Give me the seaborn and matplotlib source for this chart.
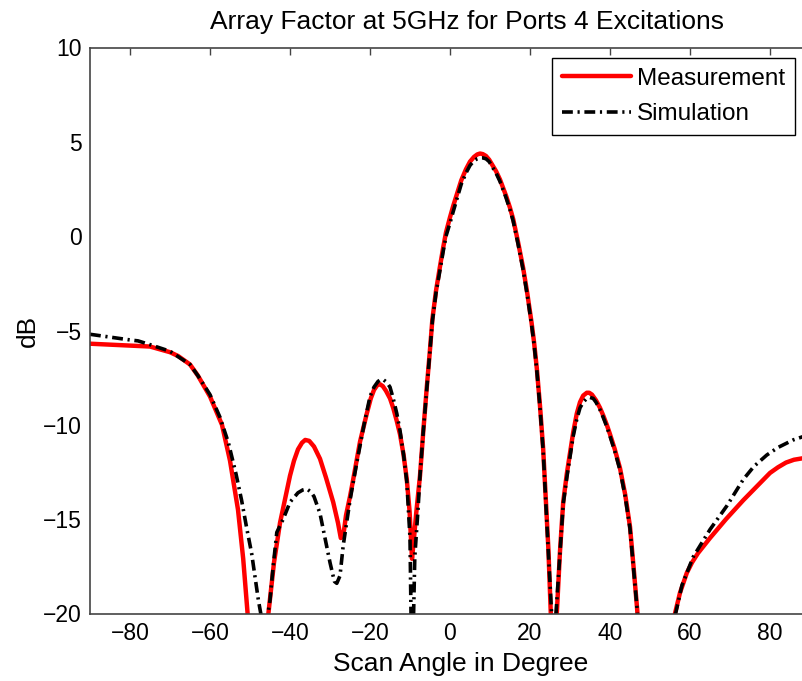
import numpy as np
import pandas as pd
import matplotlib
matplotlib.use("Agg")
import matplotlib.pyplot as plt
import seaborn as sns

# --- DATA ---
meas_angle = [-90, -85, -80, -75, -70, -68, -65, -63, -60, -57, -55, -53, -51.7, -50.6, -48, -45.4,
              -44, -42.5, -41, -40, -39, -38, -37, -36.2, -35.2, -34, -32.5, -31, -29.2, -28, -27.3,
              -26.5, -26, -25, -24.2, -22.5, -20.8, -19.8, -19, -18.2, -17.5, -16.8, -16, -15,
              -14.2, -13.3, -12.5, -11.6, -10.8, -10.1, -9.5, -9.0, -8.5, -7.5, -6.7, -5.8, -5, -4.4,
              -3.5, -2.5, -1.7, -1, 0, 0.8, 1.7, 2.8, 4, 5, 6, 6.8, 7.5, 8.2, 9, 9.8, 10.5, 11.5,
              12.5, 13.2, 14, 15, 15.8, 17, 18.3, 19.3, 20.4, 21, 21.7, 22.5, 23.3, 24.6, 25.2, 26,
              26.7, 27.5, 28.3, 29.2, 30, 30.8, 31.7, 32.5, 33.3, 34.2, 34.8, 35.5, 36.5, 37.5,
              38.3, 39.2, 40, 41.2, 42.5, 43.8, 45, 46, 46.8, 48, 52, 55.5, 56.25, 57.5, 59.2, 60.5,
              62, 65, 69, 73.3, 77, 80, 82, 84, 86, 87.5, 90]
meas_db = [-5.7, -5.75, -5.8, -5.85, -6.15, -6.35, -6.8, -7.4, -8.5, -10.0, -11.9, -14.5, -17.1, -20, -28, -20,
           -17.3, -15.2, -13.7, -12.7, -11.9, -11.3, -10.95, -10.8, -10.85, -11.15, -11.8, -12.8, -14.1, -15.2, -16.0,
           -15.6, -14.8, -13.8, -12.9, -10.9, -9.4, -8.6, -8.15, -7.9, -7.85, -7.95, -8.2, -8.6,
           -9.1, -9.8, -10.5, -11.6, -12.9, -14.6, -17.1, -16.0, -14.8, -12.7, -10.4, -8.0, -6.0, -4.4,
           -2.9, -1.6, -0.6, 0.2, 1.0, 1.6, 2.2, 2.95, 3.55, 3.95, 4.2, 4.33, 4.38, 4.35, 4.25, 4.05, 3.8, 3.45,
           3.0, 2.6, 2.15, 1.5, 0.9, -0.3, -1.7, -3.0, -4.6, -5.6, -7.0, -9.0, -11.3, -16.6, -20, -24,
           -20, -16.7, -14.1, -12.6, -11.5, -10.4, -9.4, -8.8, -8.45, -8.3, -8.3, -8.4, -8.7, -9.1,
           -9.5, -10.0, -10.5, -11.3, -12.3, -13.7, -15.4, -17.8, -19.8, -24, -30, -23, -20, -18.9, -17.85, -17.3,
           -16.8, -16.0, -15.0, -14.0, -13.2, -12.55, -12.25, -12.0, -11.85, -11.8, -11.7]

sim_angle = [-90, -85, -80, -78, -75, -70, -65, -63, -60, -57.5, -55.4, -53.5, -52.1, -50.8, -49.6, -47.9,
             -46.8, -45.8, -45, -44.2, -43.3, -41.7, -40, -38, -36.8, -35.8, -34.8, -34, -32.5, -30, -28.9,
             -28.3, -27.5, -26.7, -25, -23.3, -21.5, -20, -19, -18, -17.3, -16.7, -15.8, -15, -14.2,
             -13.3, -12.5, -11.6, -10.8, -10, -9.5, -8.8, -8, -7.5, -6.7, -5.8, -5, -4.4, -3.5, -2.5,
             -1.7, -1, 0, 0.8, 1.7, 2.8, 4, 5, 6, 6.8, 7.5, 8.2, 9, 9.8, 10.5, 11.5, 12.5, 13.2, 14,
             15, 15.8, 17, 18.3, 19.3, 20.4, 21, 21.7, 22.5, 23.3, 24.6, 25.4, 26, 26.5, 27.5, 28.3,
             29.2, 30, 30.8, 31.7, 32.5, 33.3, 34.2, 35, 35.8, 36.5, 37.5, 38.3, 39.2, 40, 41.2,
             42.5, 43.8, 45, 46, 46.8, 48, 52, 55.5, 56.4, 58, 60.8, 65, 69.2, 73.3, 76, 79.2, 82,
             85.8, 90]
sim_db = [-5.2, -5.35, -5.5, -5.55, -5.75, -6.1, -6.8, -7.4, -8.4, -9.6, -10.95, -12.6, -14.0, -15.5, -16.8, -19.3,
          -20.6, -20.4, -19.3, -17.5, -15.7, -15.0, -14.1, -13.6, -13.45, -13.4, -13.55, -13.8, -14.7, -17.3, -18.3,
          -18.4, -18.0, -16.4, -14.0, -12.0, -10.0, -8.5, -8.0, -7.7, -7.6, -7.6, -7.75, -8.0, -8.6,
          -9.4, -10.3, -11.6, -13.0, -16, -24, -17, -14.5, -12.7, -10.4, -8.1, -6.1, -4.5, -3.0, -1.8,
          -0.8, 0.0, 0.7, 1.3, 1.95, 2.75, 3.35, 3.75, 4.0, 4.1, 4.15, 4.15, 4.1, 3.95, 3.7, 3.35, 2.9, 2.5, 2.05,
          1.4, 0.8, -0.4, -1.8, -3.1, -4.7, -5.7, -7.1, -9.1, -11.4, -16.8, -20, -24, -20, -16.8, -14.2,
          -12.8, -11.7, -10.6, -9.7, -9.1, -8.8, -8.6, -8.55, -8.6, -8.8, -9.2, -9.6, -10.1, -10.6, -11.4,
          -12.4, -13.8, -15.5, -17.9, -19.8, -24, -30, -23, -20, -18.5, -17.0, -15.55, -14.3, -12.9, -12.2, -11.6, -11.2,
          -10.8, -10.5]

meas = pd.DataFrame({"angle": meas_angle, "dB": meas_db})
sim = pd.DataFrame({"angle": sim_angle, "dB": sim_db})

# --- STYLE ---
sns.set_theme(style="white")
plt.rcParams["font.family"] = ["Liberation Sans", "DejaVu Sans"]
plt.rcParams["font.size"] = 16
plt.rcParams["text.color"] = "black"
plt.rcParams["axes.labelcolor"] = "black"

fig = plt.figure(figsize=(8.02, 6.81), dpi=100)
ax = fig.add_axes([90 / 802, 67.5 / 681, 720 / 802, 566 / 681])

sim_dash = [3.0, 1.3, 0.6, 1.3]
sns.lineplot(data=meas, x="angle", y="dB", ax=ax, color="red", lw=3.2,
             label="Measurement", estimator=None, sort=False)
sns.lineplot(data=sim, x="angle", y="dB", ax=ax, color="black", lw=2.6,
             label="Simulation", estimator=None, sort=False)
ax.lines[1].set_dashes(sim_dash)

ax.set_xlim(-90, 90)
ax.set_ylim(-20, 10)
ax.set_xticks(np.arange(-80, 81, 20))
ax.set_yticks(np.arange(-20, 11, 5))
ax.tick_params(direction="in", length=5, width=1, colors="#444444", labelcolor="black",
               labelsize=16.5, top=True, right=True, pad=6)
for s in ax.spines.values():
    s.set_color("#444444")
    s.set_linewidth(1.2)

# titre et label x un peu décalés à droite comme dans la figure d'origine
ax.set_title("Array Factor at 5GHz for Ports 4 Excitations", fontsize=19, pad=13,
             x=(467 - 90) / 720, color="black")
ax.set_xlabel("Scan Angle in Degree", fontsize=19, labelpad=5)
ax.xaxis.label.set_x((460.5 - 90) / 720)
ax.set_ylabel("dB", fontsize=19, labelpad=2)

leg = ax.legend(loc="upper right", bbox_to_anchor=(795 / 802, 1 - 58 / 681),
                bbox_transform=fig.transFigure, fancybox=False, framealpha=1,
                edgecolor="black", fontsize=17.5, handlelength=2.85, handletextpad=0.25,
                borderpad=0.4, labelspacing=0.55, borderaxespad=0)
leg.get_frame().set_linewidth(1.0)
leg.get_lines()[1].set_dashes(sim_dash)
for t in leg.get_texts():
    t.set_color("black")

fig.savefig("out.png", dpi=100)
